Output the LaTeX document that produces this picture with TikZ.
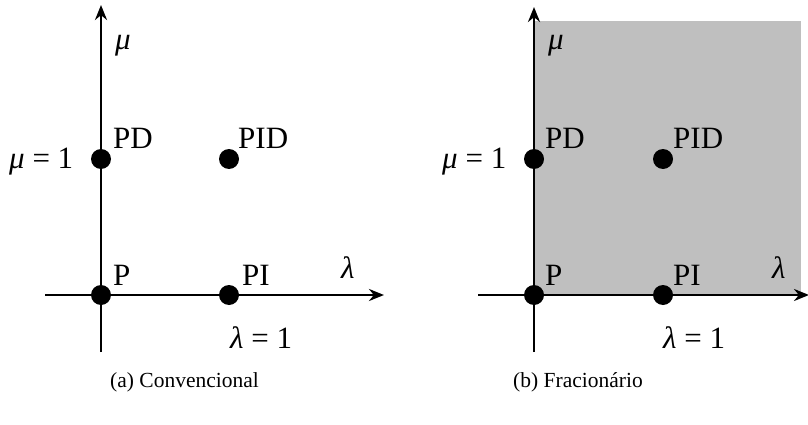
\documentclass[tikz,border=0pt]{standalone}
\usepackage{fontspec}
\setmainfont{Liberation Serif}
\usetikzlibrary{arrows.meta}
\begin{document}
\begin{tikzpicture}[x=1pt,y=-1pt,
  axis/.style={line width=2.9pt,-{Stealth[length=15pt,width=12pt]}},
  dot/.style={circle,fill=black,inner sep=0pt,minimum size=20pt},
  lbl/.style={inner sep=0pt,anchor=base west,font=\fontsize{31}{33}\selectfont},
  captext/.style={inner sep=0pt,anchor=base west,font=\fontsize{21.5}{24}\selectfont}]
\useasboundingbox (0,0) rectangle (808,425);
% ---------- (a) ----------
\coordinate (aTop) at (101,5);
\coordinate (aBot) at (101,352);
\coordinate (aL) at (45,295);
\coordinate (aR) at (384,295);
\draw[axis] (aBot) -- (aTop);
\draw[axis] (aL) -- (aR);
\node[dot] (aP) at (101,295) {};
\node[dot] (aPI) at (229,295) {};
\node[dot] (aPD) at (101,159) {};
\node[dot] (aPID) at (229,159) {};
\node[lbl] (amu) at (115,50) {\itshape μ};
\node[lbl] (aPDl) at (113,148) {PD};
\node[lbl] (aPIDl) at (238,148) {PID};
\node[lbl] (amu1) at (9,168) {{\itshape μ} = 1};
\node[lbl] (aPl) at (113,285) {P};
\node[lbl] (aPIl) at (242,285) {PI};
\node[lbl] (alam) at (341,278) {\itshape λ};
\node[lbl] (alam1) at (230,348) {{\itshape λ} = 1};
\node[captext] (capa) at (110,387) {(a) Convencional};
% ---------- (b) ----------
\fill[gray!50] (534,21) rectangle (801,295);
\coordinate (bTop) at (534,7);
\coordinate (bBot) at (534,352);
\coordinate (bL) at (478,295);
\coordinate (bR) at (809,295);
\draw[axis] (bBot) -- (bTop);
\draw[axis] (bL) -- (bR);
\node[dot] (bP) at (534,295) {};
\node[dot] (bPI) at (663,295) {};
\node[dot] (bPD) at (534,159) {};
\node[dot] (bPID) at (663,159) {};
\node[lbl] (bmu) at (548,50) {\itshape μ};
\node[lbl] (bPDl) at (545,148) {PD};
\node[lbl] (bPIDl) at (673,148) {PID};
\node[lbl] (bmu1) at (442,168) {{\itshape μ} = 1};
\node[lbl] (bPl) at (545,285) {P};
\node[lbl] (bPIl) at (673,285) {PI};
\node[lbl] (blam) at (772,278) {\itshape λ};
\node[lbl] (blam1) at (663,348) {{\itshape λ} = 1};
\node[captext] (capb) at (513,387) {(b) Fracionário};
\end{tikzpicture}
\end{document}
